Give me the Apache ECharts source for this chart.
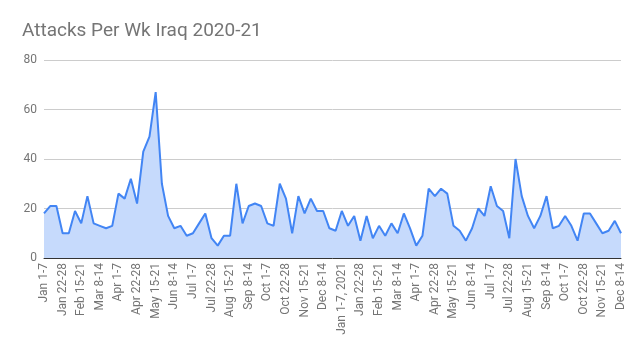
<!DOCTYPE html>
<html lang="en">

<head>
    <meta charset="UTF-8">
    <title>Attacks Per Wk Iraq 2020-21</title>
    <style>
        body { margin: 0; background: #fff; }
    </style>
</head>

<body>
    <div id="main" style="width:639px;height:352px;"></div>
</body>
<script src="https://cdn.jsdelivr.net/npm/echarts@6/dist/echarts.min.js"></script>
<script>
    // weekly buckets, 4 per month
    var months = ['Jan', 'Feb', 'Mar', 'Apr', 'May', 'Jun', 'Jul', 'Aug', 'Sep', 'Oct', 'Nov', 'Dec']
    var weeks = ['1-7', '8-14', '15-21', '22-28']

    var attacks = [
        18, 21, 21, 10, 10, 19, 14, 25, 14, 13, 12, 13, 26, 24, 32, 22,
        43, 49, 67, 30, 17, 12, 13, 9, 10, 14, 18, 8, 5, 9, 9, 30,
        14, 21, 22, 21, 14, 13, 30, 24, 10, 25, 18, 24, 19, 19, 12, 11,
        19, 13, 17, 7, 17, 8, 13, 9, 14, 10, 18, 12, 5, 9, 28, 25,
        28, 26, 13, 11, 7, 12, 20, 17, 29, 21, 19, 8, 40, 25, 17, 12,
        17, 25, 12, 13, 17, 13, 7, 18, 18, 14, 10, 11, 15, 10
    ]

    var names = []
    for (var i = 0; i < attacks.length; i++) {
        var m = Math.floor(i / 4) % 12
        var name = months[m] + ' ' + weeks[i % 4]
        if (i == 48) name += ', 2021'
        names.push(name)
    }

    var myChart = echarts.init(document.getElementById('main'))
    var option = {
        title: {
            text: 'Attacks Per Wk Iraq 2020-21',
            left: 17,
            top: 17,
            textStyle: {
                fontFamily: 'Roboto',
                fontSize: 19,
                fontWeight: 'normal',
                color: '#757575'
            }
        },
        grid: {
            left: 44,
            right: 18,
            top: 60,
            bottom: 94
        },
        xAxis: {
            type: 'category',
            data: names,
            boundaryGap: false,
            axisLine: { lineStyle: { color: '#333', width: 1 } },
            axisTick: { show: false },
            axisLabel: {
                rotate: 90,
                interval: 2,
                margin: 5,
                fontFamily: 'Roboto',
                fontSize: 12,
                color: '#757575'
            }
        },
        yAxis: {
            type: 'value',
            min: 0,
            max: 80,
            interval: 20,
            axisLine: { show: false },
            axisTick: { show: false },
            axisLabel: {
                margin: 7,
                fontFamily: 'Roboto',
                fontSize: 12,
                color: '#757575'
            },
            splitLine: { lineStyle: { color: '#cccccc' } }
        },
        series: [{
            name: 'Attacks',
            type: 'line',
            data: attacks,
            symbol: 'none',
            lineStyle: { color: '#4285f4', width: 2 },
            areaStyle: { color: '#c6dafc', opacity: 1 },
            animation: false
        }]
    }
    myChart.setOption(option)
</script>

</html>
